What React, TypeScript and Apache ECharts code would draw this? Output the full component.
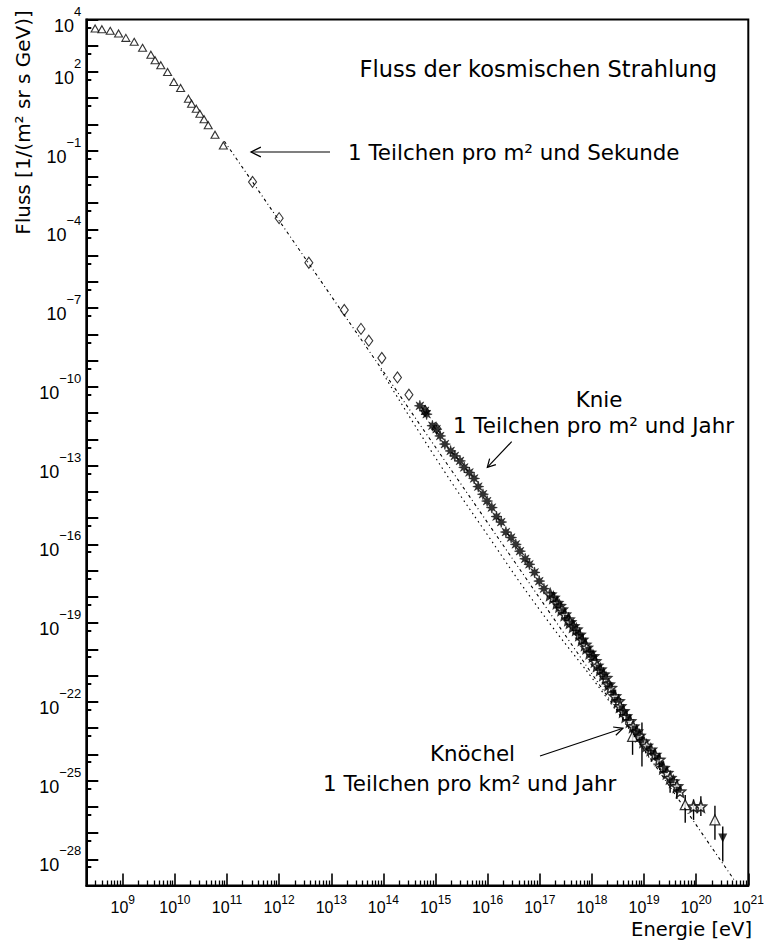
import { useEffect, useRef } from "react";
import * as echarts from "echarts";

// Both axes are drawn on log10 values: energy in eV, flux in 1/(m² sr s GeV).

const xLabelExponents = [9, 10, 11, 12, 13, 14, 15, 16, 17, 18, 19, 20, 21];
const yLabelExponents = [4, 2, -1, -4, -7, -10, -13, -16, -19, -22, -25, -28];

const X_MIN = Math.log10(2e8);
const X_MAX = 21;
const Y_MIN = -29;
const Y_MAX = 4;

// direct measurements at low energy (open triangles)
const directData: [number, number][] = [
  [8.47, 3.66], [8.6, 3.63], [8.76, 3.57], [8.92, 3.47], [9.06, 3.3], [9.22, 3.15],
  [9.38, 2.92], [9.54, 2.66], [9.62, 2.45], [9.73, 2.26], [9.86, 2.0], [9.98, 1.62],
  [10.11, 1.39], [10.26, 0.98], [10.32, 0.79], [10.41, 0.6], [10.48, 0.41], [10.56, 0.2],
  [10.64, -0.03], [10.77, -0.39], [10.93, -0.8],
];

// open diamonds
const diamondData: [number, number][] = [
  [11.49, -2.19], [12.0, -3.57], [12.57, -5.27], [13.25, -7.07], [13.57, -7.79],
  [13.72, -8.24], [13.97, -8.9], [14.27, -9.64], [14.49, -10.3], [14.8, -10.92], [15.02, -11.58],
];

// air showers around the knee (filled asterisks)
const kneeData: [number, number][] = [
  [14.7, -10.72], [14.8, -10.91], [14.83, -11.04], [14.94, -11.48], [15.02, -11.61],
  [15.09, -11.87], [15.18, -12.18], [15.29, -12.44], [15.37, -12.63], [15.47, -12.82],
  [15.55, -13.07], [15.65, -13.26], [15.74, -13.49], [15.82, -13.8], [15.91, -14.09],
  [15.99, -14.35], [16.08, -14.6], [16.17, -14.94], [16.26, -15.15], [16.35, -15.53],
  [16.45, -15.74], [16.54, -16.0], [16.62, -16.26], [16.72, -16.55], [16.8, -16.76],
  [16.9, -17.07], [16.99, -17.4], [17.08, -17.69],
];

// air showers up to the ankle (open stars)
const ankleData: [number, number][] = [
  [17.2, -17.91], [17.26, -18.03], [17.33, -18.23], [17.38, -18.35], [17.42, -18.48],
  [17.48, -18.67], [17.55, -18.86], [17.58, -18.97], [17.64, -19.12], [17.7, -19.24],
  [17.76, -19.44], [17.81, -19.63], [17.87, -19.82], [17.9, -19.94], [17.96, -20.13],
  [18.02, -20.26], [18.06, -20.45], [18.1, -20.62], [18.16, -20.77], [18.22, -20.96],
  [18.27, -21.09], [18.32, -21.34], [18.36, -21.47], [18.44, -21.79], [18.51, -21.98],
  [18.54, -22.17], [18.6, -22.36], [18.65, -22.55], [18.73, -22.74], [18.79, -22.94],
  [18.86, -23.13], [18.91, -23.29], [18.99, -23.51], [19.05, -23.67], [19.13, -23.82],
  [19.21, -24.02], [19.29, -24.21], [19.37, -24.52], [19.44, -24.71], [19.5, -24.9],
  [19.56, -25.03], [19.63, -25.22], [19.69, -25.42], [19.95, -25.99], [20.09, -25.99],
];

// filled squares in the same energy band
const ankleFilledData: [number, number][] = [
  [17.23, -17.93], [17.3, -18.1], [17.36, -18.33], [17.45, -18.55], [17.52, -18.8],
  [17.61, -19.02], [17.67, -19.2], [17.73, -19.36], [17.79, -19.52], [17.84, -19.7],
  [17.93, -20.02], [17.99, -20.17], [18.04, -20.33], [18.13, -20.7], [18.19, -20.85],
  [18.25, -21.05], [18.34, -21.38], [18.41, -21.65], [18.47, -21.92], [18.57, -22.25],
  [18.63, -22.43], [18.7, -22.62], [18.82, -23.02], [18.88, -23.2], [18.95, -23.45],
  [19.09, -23.78], [19.17, -23.93], [19.25, -24.12], [19.33, -24.38], [19.4, -24.6],
  [19.53, -24.99], [19.66, -25.35],
];

// highest energies (open triangles) and the upper limit (filled, pointing down)
const highestData: [number, number][] = [[18.78, -23.32], [19.79, -25.92], [20.36, -26.5]];
const upperLimitData: [number, number][] = [[20.51, -27.19]];

// vertical error bars: [logE, low end, high end]
const errorBars: [number, number, number][] = [
  [18.55, -21.85, -22.55], [18.78, -22.94, -24.02], [18.96, -22.79, -24.47],
  [19.3, -23.95, -24.6], [19.5, -24.62, -25.47], [19.63, -24.95, -25.7],
  [19.79, -25.55, -26.61], [19.95, -25.72, -26.5], [20.09, -25.6, -26.35],
  [20.36, -25.96, -27.26], [20.51, -26.75, -28.09],
];

// power-law guide lines
const powerLawA: [number, number][] = [[10.95, -0.64], [20.75, -28.85]];
const powerLawB: [number, number][] = [
  [13.95, -9.35], [15.0, -12.7], [16.0, -15.65], [17.0, -18.5], [18.2, -21.62], [19.2, -24.42],
];

// tick positions on the log axes
const xMajorTicks: number[] = [];
const xMinorTicks: number[] = [];
for (let n = 8; n <= 21; n++) {
  if (n >= 9) xMajorTicks.push(n);
  for (let k = 2; k <= 9; k++) {
    const v = n + Math.log10(k);
    if (v > X_MIN + 0.01 && v < X_MAX) xMinorTicks.push(v);
  }
}
const yMajorTicks: number[] = [];
const yMinorTicks: number[] = [];
for (let n = Y_MIN; n <= Y_MAX; n++) {
  yMajorTicks.push(n);
  if (n < Y_MAX) yMinorTicks.push(n + Math.log10(5));
}

const LABEL_FONT = "'Liberation Sans', Arial, sans-serif";
const TEXT_FONT = "'DejaVu Sans', Verdana, sans-serif";

const expText = (v: number) => {
  const n = Math.round(v);
  return n < 0 ? "\u2212" + Math.abs(n) : String(n);
};

const polygonPath = (points: number, outer: number, inner: number) => {
  const pts: string[] = [];
  for (let i = 0; i < points * 2; i++) {
    const r = i % 2 === 0 ? outer : inner;
    const a = (Math.PI * i) / points - Math.PI / 2;
    pts.push(`${(r * Math.cos(a)).toFixed(3)} ${(r * Math.sin(a)).toFixed(3)}`);
  }
  return "path://M" + pts.join(" L") + " Z";
};
const ASTERISK = polygonPath(8, 1, 0.42);
const STAR = polygonPath(5, 1, 0.45);

function arrow(x1: number, y1: number, x2: number, y2: number, head: number, spread: number) {
  const ang = Math.atan2(y1 - y2, x1 - x2);
  const a1 = [x2 + head * Math.cos(ang + spread), y2 + head * Math.sin(ang + spread)];
  const a2 = [x2 + head * Math.cos(ang - spread), y2 + head * Math.sin(ang - spread)];
  return [
    { type: "line", silent: true, shape: { x1, y1, x2, y2 }, style: { stroke: "#000", lineWidth: 1.2 } },
    {
      type: "polyline",
      silent: true,
      shape: { points: [a1, [x2, y2], a2] },
      style: { stroke: "#000", lineWidth: 1.2, fill: null },
    },
  ];
}

function label(text: string, x: number, y: number, size: number, align: string, extra: any = {}) {
  return {
    type: "text",
    silent: true,
    x,
    y,
    ...extra,
    style: {
      text,
      fill: "#000",
      fontSize: size,
      fontFamily: TEXT_FONT,
      align,
      verticalAlign: "middle",
    },
  };
}

export default function App() {
  const ref = useRef<HTMLDivElement>(null);

  useEffect(() => {
    if (!ref.current) return;
    const chart = echarts.init(ref.current, undefined, { renderer: "svg" });

    const axisCommon = {
      type: "value",
      splitLine: { show: false },
      axisLine: { onZero: false },
    };

    const option: any = {
      animation: false,
      backgroundColor: "#fff",
      textStyle: { fontFamily: LABEL_FONT, color: "#000" },
      grid: {
        left: 86.3,
        right: 22.7,
        top: 19.5,
        bottom: 56.5,
        show: true,
        borderColor: "#000",
        borderWidth: 2,
        backgroundColor: "transparent",
      },
      xAxis: [
        {
          ...axisCommon,
          position: "bottom",
          min: X_MIN,
          max: X_MAX,
          axisLine: { show: true, onZero: false, lineStyle: { color: "#000", width: 2 } },
          axisTick: {
            show: true,
            inside: true,
            length: 12,
            customValues: xMajorTicks,
            lineStyle: { color: "#000", width: 1.6 },
          },
          axisLabel: {
            show: true,
            customValues: xLabelExponents,
            margin: 8,
            color: "#000",
            formatter: (v: number) => `{b|10}{s|${expText(v)}}`,
            rich: {
              b: { fontSize: 16, fontFamily: LABEL_FONT, lineHeight: 22, verticalAlign: "bottom", color: "#000" },
              s: { fontSize: 12, fontFamily: LABEL_FONT, lineHeight: 6, verticalAlign: "top", color: "#000" },
            },
          },
        },
        {
          ...axisCommon,
          position: "bottom",
          min: X_MIN,
          max: X_MAX,
          axisLine: { show: false, onZero: false },
          axisLabel: { show: false },
          axisTick: {
            show: true,
            inside: true,
            length: 5,
            customValues: xMinorTicks,
            lineStyle: { color: "#000", width: 1.3 },
          },
        },
      ],
      yAxis: [
        {
          ...axisCommon,
          position: "left",
          min: Y_MIN,
          max: Y_MAX,
          axisLine: { show: true, onZero: false, lineStyle: { color: "#000", width: 2 } },
          axisTick: {
            show: true,
            inside: true,
            length: 12,
            customValues: yMajorTicks,
            lineStyle: { color: "#000", width: 2 },
          },
          axisLabel: {
            show: true,
            customValues: yLabelExponents,
            margin: 5,
            color: "#000",
            formatter: (v: number) => `{b|10}{s|${expText(v)}}`,
            rich: {
              b: { fontSize: 18, fontFamily: LABEL_FONT, lineHeight: 30, verticalAlign: "bottom", color: "#000" },
              s: { fontSize: 13, fontFamily: LABEL_FONT, lineHeight: 8, verticalAlign: "top", color: "#000" },
            },
          },
        },
        {
          ...axisCommon,
          position: "left",
          min: Y_MIN,
          max: Y_MAX,
          axisLine: { show: false, onZero: false },
          axisLabel: { show: false },
          axisTick: {
            show: true,
            inside: true,
            length: 5,
            customValues: yMinorTicks,
            lineStyle: { color: "#000", width: 2 },
          },
        },
      ],
      series: [
        {
          type: "line",
          data: powerLawA,
          showSymbol: false,
          silent: true,
          lineStyle: { color: "#000", width: 1.1, type: [3, 3, 1, 3] },
        },
        {
          type: "line",
          data: powerLawB,
          showSymbol: false,
          smooth: true,
          silent: true,
          lineStyle: { color: "#000", width: 1.1, type: [1.5, 3.5] },
        },
        {
          type: "custom",
          data: errorBars,
          silent: true,
          encode: { x: 0, y: [1, 2] },
          renderItem: (_p: any, api: any) => {
            const a = api.coord([api.value(0), api.value(1)]);
            const b = api.coord([api.value(0), api.value(2)]);
            return {
              type: "line",
              shape: { x1: a[0], y1: a[1], x2: b[0], y2: b[1] },
              style: { stroke: "#000", lineWidth: 1.4 },
            };
          },
        },
        {
          type: "scatter",
          data: directData,
          symbol: "triangle",
          symbolSize: [8, 7],
          itemStyle: { color: "#fff", borderColor: "#000", borderWidth: 1.1 },
        },
        {
          type: "scatter",
          data: diamondData,
          symbol: "diamond",
          symbolSize: [8, 11],
          itemStyle: { color: "#fff", borderColor: "#000", borderWidth: 1.1 },
        },
        {
          type: "scatter",
          data: kneeData,
          symbol: ASTERISK,
          symbolSize: 11,
          itemStyle: { color: "#000", borderColor: "#000", borderWidth: 0.6 },
        },
        {
          type: "scatter",
          data: ankleData,
          symbol: STAR,
          symbolSize: 11,
          itemStyle: { color: "#fff", borderColor: "#000", borderWidth: 1.6 },
        },
        {
          type: "scatter",
          data: ankleFilledData,
          symbol: "rect",
          symbolSize: 6,
          itemStyle: { color: "#000" },
        },
        {
          type: "scatter",
          data: highestData,
          symbol: "triangle",
          symbolSize: [10, 10],
          itemStyle: { color: "#fff", borderColor: "#000", borderWidth: 1.2 },
        },
        {
          type: "scatter",
          data: upperLimitData,
          symbol: "triangle",
          symbolRotate: 180,
          symbolSize: [9, 9],
          itemStyle: { color: "#000" },
        },
      ],
      graphic: {
        elements: [
          label("Fluss der kosmischen Strahlung", 359.5, 69, 22.5, "left"),
          label("1 Teilchen pro m² und Sekunde", 348, 152, 21.4, "left"),
          ...arrow(330, 152, 251, 152, 11, 0.46),
          label("Knie", 599, 399, 21.4, "center"),
          label("1 Teilchen pro m² und Jahr", 453, 425, 21.4, "left"),
          ...arrow(511.7, 441.7, 487.3, 467.3, 9, 0.5),
          label("Knöchel", 472.5, 753, 21.4, "center"),
          label("1 Teilchen pro km² und Jahr", 323, 783, 21.4, "left"),
          ...arrow(540, 756, 623, 728.3, 10, 0.45),
          label("Energie [eV]", 752, 929.5, 19.5, "right"),
          label("Fluss [1/(m² sr s GeV)]", 23, 122.5, 20, "center", { rotation: Math.PI / 2 }),
        ],
      },
    };

    chart.setOption(option);
    return () => chart.dispose();
  }, []);

  return (
    <div
      ref={ref}
      style={{ position: "fixed", left: 0, top: 0, width: 771, height: 942, background: "#fff" }}
    />
  );
}
